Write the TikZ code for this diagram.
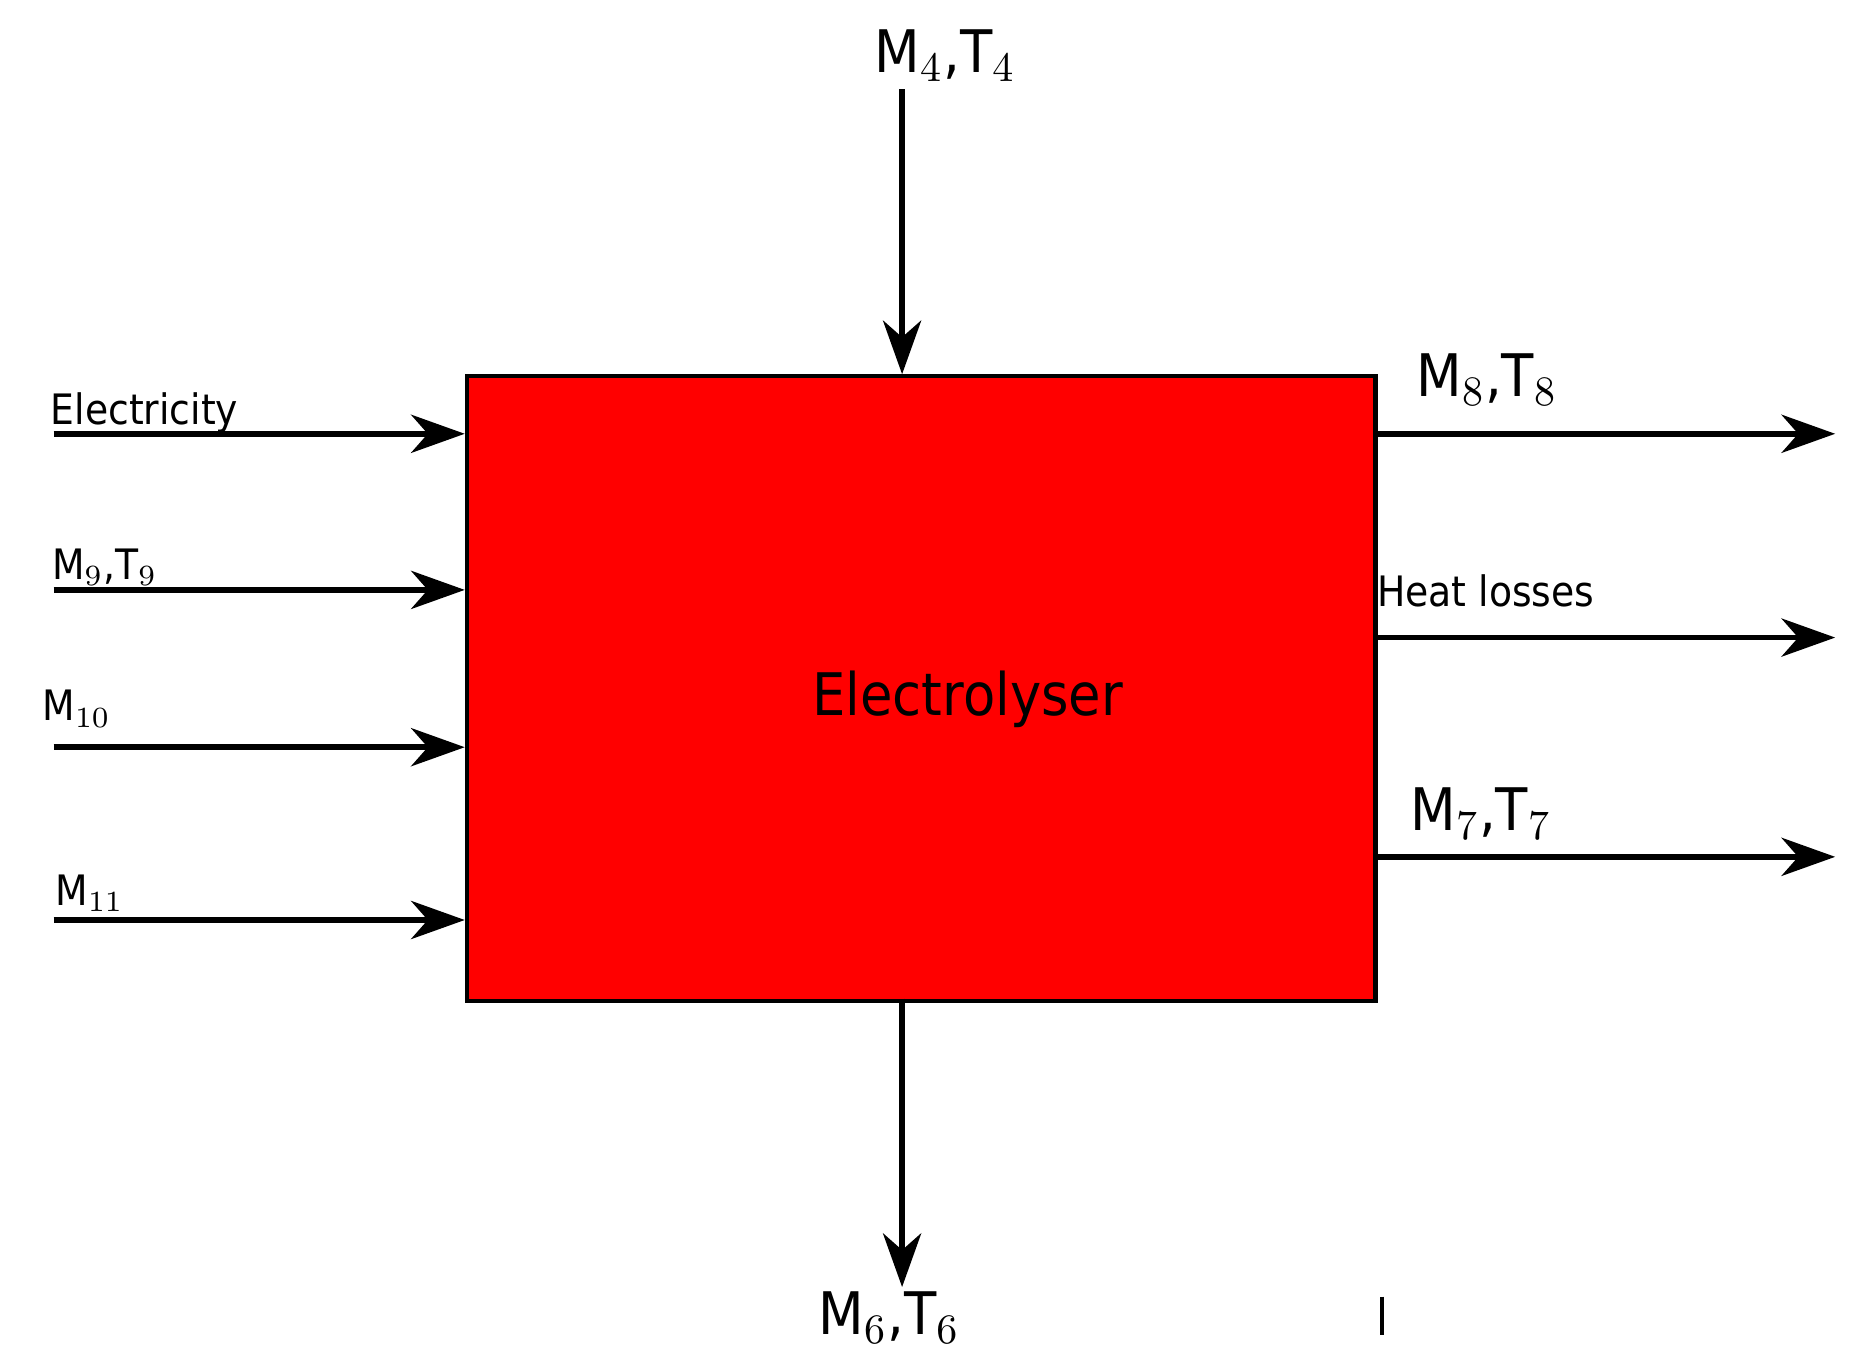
\documentclass[tikz,border=0pt]{standalone}
\usepackage{fontspec}
\setmainfont{DejaVu Sans Condensed}
\usetikzlibrary{arrows.meta}
\begin{document}
\begin{tikzpicture}[x=0.01cm,y=-0.01cm,
  flow/.style={line width=1.3pt,-{Stealth[length=0.45cm,width=0.32cm,inset=0.14cm]}},
  big/.style={font=\fontsize{14}{16}\selectfont,inner sep=0pt},
  small/.style={font=\fontsize{10}{12}\selectfont,inner sep=0pt,anchor=base west}]
\useasboundingbox (0,0) rectangle (1560,1150);
\node[draw,line width=1pt,fill=red,minimum width=7.62cm,minimum height=5.24cm,inner sep=0pt,anchor=north west] (box) at (390,314) {};
\node[big] (el) at (812,587) {Electrolyser};
% inputs
\coordinate (e0) at (45,364); \coordinate (e1) at (box.west|-e0);
\coordinate (a0) at (45,495); \coordinate (a1) at (box.west|-a0);
\coordinate (b0) at (45,627); \coordinate (b1) at (box.west|-b0);
\coordinate (c0) at (45,772); \coordinate (c1) at (box.west|-c0);
\draw[flow] (e0) -- (e1);
\draw[flow] (a0) -- (a1);
\draw[flow] (b0) -- (b1);
\draw[flow] (c0) -- (c1);
\node[small] (le) at (42,356) {Electricity};
\node[small] (la) at (43,486) {M$_{9}$,T$_{9}$};
\node[small] (lb) at (35,605) {M$_{10}$};
\node[small] (lc) at (46,760) {M$_{11}$};
% outputs
\coordinate (f0) at (box.east|-0,364); \coordinate (f1) at (1540,364);
\coordinate (g0) at (box.east|-0,535); \coordinate (g1) at (1540,535);
\coordinate (h0) at (box.east|-0,719); \coordinate (h1) at (1540,719);
\draw[flow] (f0) -- (f1);
\draw[flow] (g0) -- (g1);
\draw[flow] (h0) -- (h1);
\node[big,anchor=base west] (lf) at (1188,333) {M$_{8}$,T$_{8}$};
\node[small] (lg) at (1155,509) {Heat losses};
\node[big,anchor=base west] (lh) at (1183,697) {M$_{7}$,T$_{7}$};
% top / bottom
\node[big,anchor=base] (lt) at (793,61) {M$_{4}$,T$_{4}$};
\coordinate (t0) at (757,75); \coordinate (t1) at (757,314);
\draw[flow] (t0) -- (t1);
\coordinate (d0) at (757,838); \coordinate (d1) at (757,1080);
\draw[flow] (d0) -- (d1);
\node[big,anchor=base] (ld) at (746,1120) {M$_{6}$,T$_{6}$};
\coordinate (p0) at (1160,1088); \coordinate (p1) at (1160,1120);
\draw[line width=1pt] (p0) -- (p1);
\end{tikzpicture}
\end{document}
